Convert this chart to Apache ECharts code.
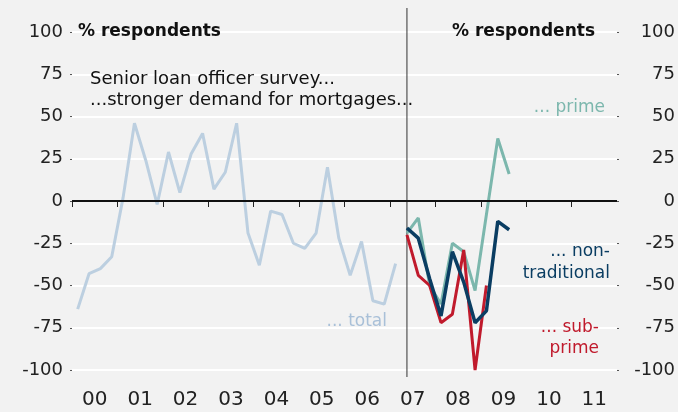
<!DOCTYPE html>
<html><head><meta charset="utf-8">
<script src="https://cdn.jsdelivr.net/npm/echarts@6/dist/echarts.min.js"></script>
<style>html,body{margin:0;padding:0;background:#f2f2f2}#c{width:678px;height:412px}</style>
</head><body><div id="c"></div>
<script>
// Tick labels (years) and their boundaries
const yearTicks = [2000,2001,2002,2003,2004,2005,2006,2007,2008,2009,2010,2011];
const yearLabels = ['00','01','02','03','04','05','06','07','08','09','10','11'];

// Quarterly series: first quarter of each series
const totalStart = {year:2000, quarter:1};
const newStart = {year:2007, quarter:2};

// % respondents reporting stronger demand for mortgages
const total = [-64,-43,-40,-33,2,46,24,-2,29,5,28,40,7,17,46,-19,-38,-6,-8,-25,-28,-19,20,-22,-44,-24,-59,-61,-37];
const prime = [-19,-10,-50,-61,-25,-30,-53,-8,37,16];
const nontraditional = [-16,-22,-46,-68,-30,-48,-72,-65,-12,-17];
const subprime = [-20,-44,-50,-72,-67,-29,-100,-50];

function qx(start, i){
  const q = start.quarter - 1 + i;
  return start.year + (q + 0.5) / 4;
}
function toPairs(start, arr){ return arr.map((v,i)=>[qx(start,i), v]); }

const FONT = 'DejaVu Sans';
const chart = echarts.init(document.getElementById('c'), null, {renderer:'canvas'});

const yAxisCommon = {
  type:'value', min:-100, max:100, interval:25,
  axisLine:{show:false},
  axisTick:{show:true, length:2, lineStyle:{color:'#555', width:1}},
  axisLabel:{color:'#222', fontSize:18, fontFamily:FONT}
};

chart.setOption({
  backgroundColor:'#f2f2f2',
  animation:false,
  grid:{left:72, right:61, top:32, bottom:42},
  xAxis:{
    type:'value', min:2000, max:2012, offset:7,
    axisLine:{show:false},
    splitLine:{show:false},
    axisTick:{show:true, length:6, customValues:yearTicks, lineStyle:{color:'#222', width:1}},
    axisLabel:{customValues:yearTicks.map(y=>y+0.5), margin:13, color:'#222', fontSize:20, fontFamily:FONT,
      formatter:(v)=>yearLabels[yearTicks.indexOf(Math.floor(v))]}
  },
  yAxis:[
    Object.assign({}, yAxisCommon, {position:'left',
      splitLine:{show:true, lineStyle:{color:'#ffffff', width:2}},
      axisLabel:Object.assign({}, yAxisCommon.axisLabel, {margin:9})}),
    Object.assign({}, yAxisCommon, {position:'right',
      splitLine:{show:false},
      axisLabel:Object.assign({}, yAxisCommon.axisLabel, {margin:58, align:'right'})})
  ],
  series:[
    {name:'total', type:'line', data:toPairs(totalStart,total), symbol:'none',
      lineStyle:{color:'#bccfe0', width:3}, z:2,
      markLine:{silent:true, symbol:'none', label:{show:false},
        lineStyle:{color:'#111', width:2, type:'solid'}, data:[{yAxis:0}]}},
    {name:'prime', type:'line', data:toPairs(newStart,prime), symbol:'none',
      lineStyle:{color:'#7cb7ad', width:3}, z:3},
    {name:'subprime', type:'line', data:toPairs(newStart,subprime), symbol:'none',
      lineStyle:{color:'#c01a2c', width:3}, z:4},
    {name:'nontraditional', type:'line', data:toPairs(newStart,nontraditional), symbol:'none',
      lineStyle:{color:'#0a3d62', width:3.5}, z:5}
  ]
});

const vx = chart.convertToPixel({xAxisIndex:0}, qx(newStart,0));
function T(x,y,text,color,align,font){
  return {type:'text', x, y, z:10, style:{text, fill:color, font:font||'17px "DejaVu Sans"', textAlign:align||'left', textVerticalAlign:'middle'}};
}
chart.setOption({
  graphic:[
    {type:'line', z:1, shape:{x1:vx, y1:8, x2:vx, y2:377}, style:{stroke:'#333', lineWidth:1}},
    T(78,32,'% respondents','#111','left','bold 17px "DejaVu Sans"'),
    T(595,32,'% respondents','#111','right','bold 17px "DejaVu Sans"'),
    T(90,79,'Senior loan officer survey...','#111','left','18px "DejaVu Sans"'),
    T(90,100,'...stronger demand for mortgages...','#111','left','18px "DejaVu Sans"'),
    T(605,108,'... prime','#7cb7ad','right'),
    T(610,252,'... non-','#0a3d62','right'),
    T(610,274,'traditional','#0a3d62','right'),
    T(599,328,'... sub-','#c01a2c','right'),
    T(599,349,'prime','#c01a2c','right'),
    T(387,322,'... total','#a9c0d8','right')
  ]
});
</script></body></html>
